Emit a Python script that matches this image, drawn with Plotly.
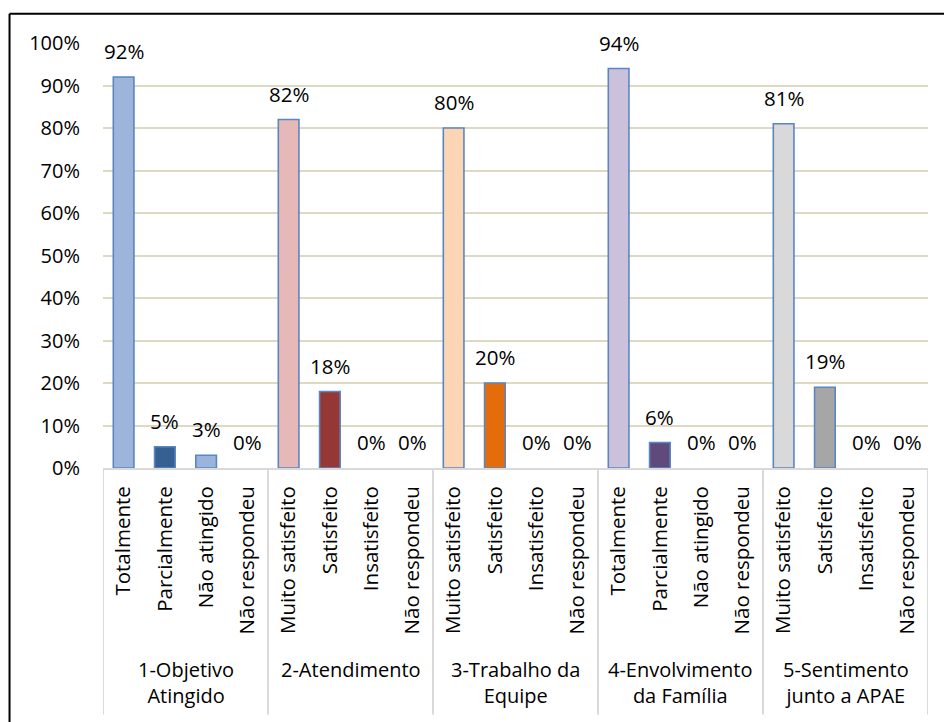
import plotly.graph_objects as go

groups = ["1-Objetivo<br>Atingido", "2-Atendimento", "3-Trabalho da<br>Equipe",
          "4-Envolvimento<br>da Família", "5-Sentimento<br>junto a APAE"]
cats_g1 = ["Totalmente", "Parcialmente", "Não atingido", "Não respondeu"]
cats_g2 = ["Muito satisfeito", "Satisfeito", "Insatisfeito", "Não respondeu"]
cats_g3 = ["Muito satisfeito", "Satisfeito", "Insatisfeito", "Não respondeu"]
cats_g4 = ["Totalmente", "Parcialmente", "Não atingido", "Não respondeu"]
cats_g5 = ["Muito satisfeito", "Satisfeito", "Insatisfeito", "Não respondeu"]
vals_g1 = [0.92, 0.05, 0.03, 0.00]
vals_g2 = [0.82, 0.18, 0.00, 0.00]
vals_g3 = [0.80, 0.20, 0.00, 0.00]
vals_g4 = [0.94, 0.06, 0.00, 0.00]
vals_g5 = [0.81, 0.19, 0.00, 0.00]
colors = ["#9DB5DA", "#376092", "#9AB5DB", "#D0D0D0",
          "#E6B9B8", "#953735", "#E6B9B8", "#953735",
          "#FCD5B5", "#E46C0A", "#FCD5B5", "#E46C0A",
          "#CCC1DA", "#604A7B", "#CCC1DA", "#604A7B",
          "#D9D9D9", "#A6A6A6", "#D9D9D9", "#A6A6A6"]

all_cats = [cats_g1, cats_g2, cats_g3, cats_g4, cats_g5]
all_vals = [vals_g1, vals_g2, vals_g3, vals_g4, vals_g5]
labels = [c for g in all_cats for c in g]
values = [v for g in all_vals for v in g]
xs = list(range(len(values)))

FONT = "Open Sans"

fig = go.Figure()
fig.add_trace(go.Bar(
    x=xs, y=values, width=0.5,
    marker=dict(color=colors,
                line=dict(color="#5A86C2", width=[1.6 if v > 0 else 0 for v in values])),
    hoverinfo="x+y",
))

annotations = []
# data labels
for x, v in zip(xs, values):
    annotations.append(dict(x=x, y=v, xref="x", yref="y", text=f"{round(v*100)}%",
                            showarrow=False, yanchor="bottom", xanchor="center", yshift=10,
                            font=dict(family=FONT, size=20.5, color="#000000")))

shapes = []
# group separators
b = -0.5
bounds = [b]
for g in all_cats:
    b += len(g)
    bounds.append(b)
for xb in bounds:
    shapes.append(dict(type="line", xref="x", yref="paper", x0=xb, x1=xb, y0=0, y1=-0.58,
                       line=dict(color="#D9D9D9", width=2)))
# outer border (top and left edges visible in frame)
shapes.append(dict(type="line", xref="paper", yref="paper", x0=-0.1133, x1=1.0194, y0=1.069, y1=1.069,
                   line=dict(color="#000000", width=2), layer="above"))
shapes.append(dict(type="line", xref="paper", yref="paper", x0=-0.1133, x1=-0.1133, y0=1.069, y1=-0.6,
                   line=dict(color="#000000", width=2), layer="above"))

for i, gname in enumerate(groups):
    annotations.append(dict(x=(bounds[i] + bounds[i + 1]) / 2, xref="x", y=-0.438, yref="paper",
                            text=gname, showarrow=False, yanchor="top", xanchor="center",
                            font=dict(family=FONT, size=20, color="#000000")))

fig.update_layout(
    width=944, height=722,
    margin=dict(l=103, r=16, t=42.5, b=254),
    plot_bgcolor="white", paper_bgcolor="white",
    showlegend=False, bargap=0.5,
    shapes=shapes, annotations=annotations,
    xaxis=dict(tickmode="array", tickvals=xs, ticktext=labels, tickangle=-90,
               range=[-0.5, len(values) - 0.5], showgrid=False, zeroline=False,
               showline=True, linecolor="#D9D9D9", linewidth=2, ticks="",
               ticklabelstandoff=8,
               tickfont=dict(family=FONT, size=20.5, color="#000000")),
    yaxis=dict(range=[0, 1], dtick=0.1, tickformat=".0%", showgrid=True,
               gridcolor="#DDD9C3", gridwidth=1.5, zeroline=False, showline=False, ticks="",
               ticklabelstandoff=22,
               tickfont=dict(family=FONT, size=20, color="#000000")),
)

fig.write_html("out.html", config={"displayModeBar": False},
               post_script="document.body.style.margin='0';document.body.style.overflow='hidden';")
